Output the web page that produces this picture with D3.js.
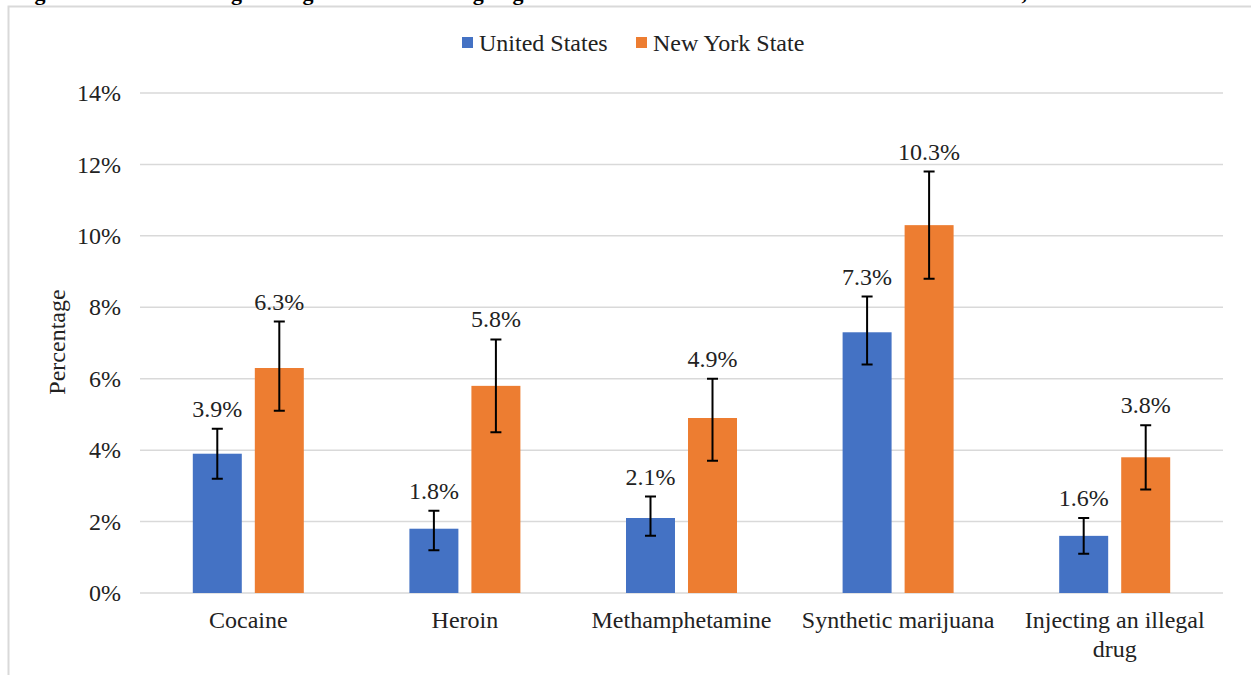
<!DOCTYPE html>
<html>
<head>
<meta charset="utf-8">
<script src="https://cdn.jsdelivr.net/npm/d3@7"></script>
<style>
  body{margin:0;background:#fff;}
  svg{display:block;}
</style>
</head>
<body>
<div id="container"></div>
<script>
let w=1251;
let h=675;

// data
let categories = ["Cocaine","Heroin","Methamphetamine","Synthetic marijuana","Injecting an illegal drug"];
let series = ["United States","New York State"];
let usValues = [3.9,1.8,2.1,7.3,1.6];
let nyValues = [6.3,5.8,4.9,10.3,3.8];
let usLow = [3.2,1.2,1.6,6.4,1.1];
let usHigh = [4.6,2.3,2.7,8.3,2.1];
let nyLow = [5.1,4.5,3.7,8.8,2.9];
let nyHigh = [7.6,7.1,6.0,11.8,4.7];
let yTicks = [0,2,4,6,8,10,12,14];
let colors = ["#4472c4","#ed7d31"];

let font = "'Liberation Serif','Times New Roman',serif";
let fs = 24;

let viz = d3.select("#container")
  .append("svg")
    .attr("width",w)
    .attr("height",h)
    .style("background-color","#fff")
;

// title of the page above, only its lowest strip shows
viz.append("text")
  .attr("x",15)
  .attr("y",0)
  .attr("font-family",font)
  .attr("font-weight","bold")
  .attr("font-size",22)
  .attr("fill","#000")
  .text("Figure 10. Lifetime Illegal Drug Use Rates Among High School Students: United States and New York State, 2019");

// chart frame
viz.append("path")
  .attr("d","M8.5,"+h+" V6.5 H"+w)
  .attr("fill","none")
  .attr("stroke","#d9d9d9")
  .attr("stroke-width",2);

let x = d3.scaleBand().domain(categories).range([140,1223]);
let xs = d3.scaleBand().domain(series)
  .range([x.bandwidth()/2-55.5, x.bandwidth()/2+55.5])
  .paddingInner(0.21);
let y = d3.scaleLinear().domain([0,14]).range([593,93]);

// gridlines
viz.append("g")
  .selectAll("line").data(yTicks).enter()
  .append("line")
    .attr("x1",140).attr("x2",1223)
    .attr("y1",d=>y(d)).attr("y2",d=>y(d))
    .attr("stroke","#d9d9d9")
    .attr("stroke-width",1.5)
;

// y tick labels
let yAxis = viz.append("g")
  .attr("transform","translate(121,0)")
  .call(d3.axisLeft(y).tickValues(yTicks).tickSize(0).tickPadding(0).tickFormat(d=>d+"%"));
yAxis.select(".domain").remove();
yAxis.attr("font-family",font).attr("font-size",fs);
yAxis.selectAll("text")
  .attr("fill","#222");

viz.append("text")
  .attr("transform","translate(65,342) rotate(-90)")
  .attr("text-anchor","middle")
  .attr("font-family",font)
  .attr("font-size",fs)
  .attr("fill","#222")
  .text("Percentage");

// bars
let rows = categories.map((c,i)=>[
  {cat:c, s:series[0], v:usValues[i], lo:usLow[i], hi:usHigh[i], col:colors[0]},
  {cat:c, s:series[1], v:nyValues[i], lo:nyLow[i], hi:nyHigh[i], col:colors[1]}
]);

let groups = viz.selectAll(".cat").data(rows).enter()
  .append("g")
    .attr("class","cat")
    .attr("transform",d=>"translate("+x(d[0].cat)+",0)")
;

let items = groups.selectAll(".item").data(d=>d).enter()
  .append("g")
    .attr("class","item")
    .attr("transform",d=>"translate("+(xs(d.s)+xs.bandwidth()/2)+",0)")
;

items.append("rect")
  .attr("x",-xs.bandwidth()/2)
  .attr("width",xs.bandwidth())
  .attr("y",d=>y(d.v))
  .attr("height",d=>y(0)-y(d.v))
  .attr("fill",d=>d.col);

// error bars
items.append("path")
  .attr("d",d=>"M0,"+y(d.lo)+" V"+y(d.hi)+" M-5.5,"+y(d.lo)+" H5.5 M-5.5,"+y(d.hi)+" H5.5")
  .attr("stroke","#000")
  .attr("stroke-width",2)
  .attr("fill","none");

items.append("text")
  .attr("y",d=>y(d.hi)-12)
  .attr("text-anchor","middle")
  .attr("font-family",font)
  .attr("font-size",fs)
  .attr("fill","#222")
  .text(d=>d.v.toFixed(1)+"%");

// category labels (wrapped like the original)
let catLines = {"Injecting an illegal drug":["Injecting an illegal","drug"]};
groups.append("text")
  .attr("text-anchor","middle")
  .attr("font-family",font)
  .attr("font-size",fs)
  .attr("fill","#222")
  .each(function(d){
    let lines = catLines[d[0].cat] || [d[0].cat];
    d3.select(this).selectAll("tspan").data(lines).enter()
      .append("tspan")
        .attr("x",x.bandwidth()/2)
        .attr("y",(l,i)=>628+i*29)
        .text(l=>l);
  })
;

// legend
let legend = viz.append("g");
let legendX = [462,636];
series.forEach((s,i)=>{
  legend.append("rect")
    .attr("x",legendX[i]).attr("y",37)
    .attr("width",11).attr("height",11)
    .attr("fill",colors[i]);
  legend.append("text")
    .attr("x",legendX[i]+17).attr("y",51)
    .attr("font-family",font)
    .attr("font-size",fs)
    .attr("fill","#222")
    .text(s);
});
</script>
</body>
</html>
